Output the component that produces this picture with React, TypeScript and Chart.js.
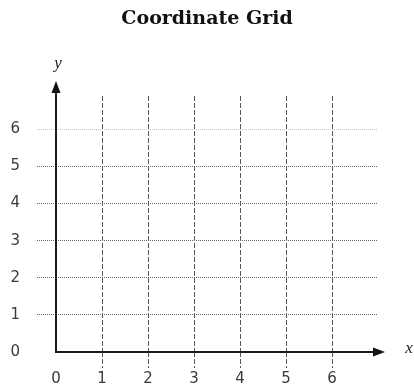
import React, { useEffect, useRef } from "react";
import { Chart, registerables } from "chart.js";

Chart.register(...registerables);

const titleText = "Coordinate Grid";
const xTicks = [0, 1, 2, 3, 4, 5, 6];
const yTicks = [0, 1, 2, 3, 4, 5, 6];
const xRange = [0, 7];
const yRange = [0, 6.9];
const xAxisLabel = "x";
const yAxisLabel = "y";
const points: { x: number; y: number }[] = [];

const axesPlugin = {
  id: "axesArrows",
  afterDraw(chart: any) {
    const { ctx, scales } = chart;
    const xs = scales.x;
    const ys = scales.y;
    const x0 = xs.getPixelForValue(0);
    const y0 = ys.getPixelForValue(0);
    ctx.save();
    ctx.strokeStyle = "#1a1a1a";
    ctx.fillStyle = "#111";
    ctx.lineWidth = 2;
    ctx.setLineDash([]);
    // y axis
    ctx.beginPath();
    ctx.moveTo(x0, y0 + 1);
    ctx.lineTo(x0, 90);
    ctx.stroke();
    ctx.beginPath();
    ctx.moveTo(x0, 81);
    ctx.lineTo(x0 - 4.5, 93);
    ctx.lineTo(x0 + 4.5, 93);
    ctx.closePath();
    ctx.fill();
    // x axis
    ctx.beginPath();
    ctx.moveTo(x0 - 1, y0);
    ctx.lineTo(376, y0);
    ctx.stroke();
    ctx.beginPath();
    ctx.moveTo(385, y0);
    ctx.lineTo(373, y0 - 4.5);
    ctx.lineTo(373, y0 + 4.5);
    ctx.closePath();
    ctx.fill();
    // axis names
    ctx.font = "italic 17px 'Liberation Serif'";
    ctx.fillStyle = "#222";
    ctx.textAlign = "center";
    ctx.textBaseline = "middle";
    ctx.fillText(yAxisLabel, 58, 64);
    ctx.fillText(xAxisLabel, 409, 349);
    ctx.restore();
  },
};

export default function App() {
  const ref = useRef<HTMLCanvasElement | null>(null);
  useEffect(() => {
    if (!ref.current) return;
    const chart = new Chart(ref.current, {
      type: "scatter",
      data: { datasets: [{ data: points, pointRadius: 0 }] },
      plugins: [axesPlugin],
      options: {
        animation: false,
        responsive: false,
        layout: { padding: 0 },
        plugins: {
          legend: { display: false },
          tooltip: { enabled: false },
          title: {
            display: true,
            text: titleText,
            color: "#111",
            font: { family: "'DejaVu Serif'", size: 19, weight: "bold", lineHeight: 1.2 },
            padding: { top: 7.6, bottom: 65.6 },
          },
        },
        scales: {
          x: {
            type: "linear",
            min: xRange[0],
            max: xRange[1],
            afterBuildTicks: (s: any) => {
              s.ticks = xTicks.map((v) => ({ value: v }));
            },
            afterFit: (s: any) => {
              s.height = 33;
            },
            ticks: {
              color: "#3a3a3a",
              font: { family: "'DejaVu Sans'", size: 15 },
              padding: 2,
              maxRotation: 0,
            },
            grid: {
              color: (c: any) => (c.tick && c.tick.value === 0 ? "rgba(0,0,0,0)" : "#555"),
              tickColor: (c: any) => (c.tick && c.tick.value === 0 ? "rgba(0,0,0,0)" : "#555"),
              lineWidth: 1,
              tickLength: 16,
              tickBorderDash: [5, 2],
            },
            border: { display: false, dash: [5, 2] },
          },
          y: {
            type: "linear",
            position: "left",
            min: yRange[0],
            max: yRange[1],
            afterBuildTicks: (s: any) => {
              s.ticks = yTicks.map((v) => ({ value: v }));
            },
            afterFit: (s: any) => {
              s.width = 56;
            },
            ticks: {
              color: "#3a3a3a",
              font: { family: "'DejaVu Sans'", size: 15 },
              padding: 17,
            },
            grid: {
              color: (c: any) =>
                c.tick && c.tick.value === 0 ? "rgba(0,0,0,0)" : c.tick && c.tick.value === 6 ? "#c4c4c4" : "#666",
              tickColor: (c: any) =>
                c.tick && c.tick.value === 0 ? "rgba(0,0,0,0)" : c.tick && c.tick.value === 6 ? "#c4c4c4" : "#666",
              lineWidth: 1,
              tickLength: 19,
              tickBorderDash: [1, 1],
            },
            border: { display: false, dash: [1, 1] },
          },
          yRightSpace: {
            type: "linear",
            position: "right",
            min: yRange[0],
            max: yRange[1],
            afterFit: (s: any) => {
              s.width = 36;
            },
            ticks: { display: false },
            grid: { display: false, drawTicks: false },
            border: { display: false },
          },
        },
      },
    } as any);
    return () => chart.destroy();
  }, []);
  return (
    <div style={{ position: "absolute", left: 0, top: 0, width: 414, height: 385, background: "#fff" }}>
      <canvas ref={ref} width={414} height={385} style={{ width: 414, height: 385 }} />
    </div>
  );
}
